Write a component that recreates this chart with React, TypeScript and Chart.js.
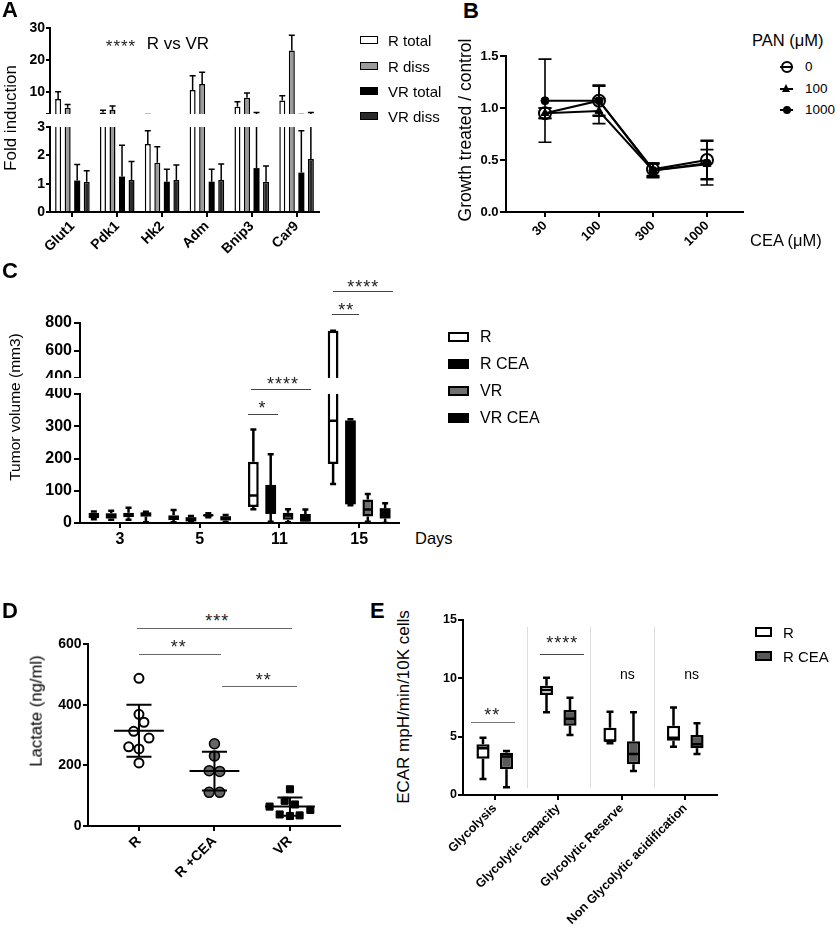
import React, { useEffect, useRef } from 'react';
import { Chart, registerables } from 'chart.js';

Chart.register(...registerables);

const FONT = "'Liberation Sans', Arial, Helvetica, sans-serif";
Chart.defaults.font.family = FONT;
Chart.defaults.color = '#000';

// ===== Panel A: fold induction =====
const genes = ['Glut1', 'Pdk1', 'Hk2', 'Adm', 'Bnip3', 'Car9'];
const aSeriesNames = ['R total', 'R diss', 'VR total', 'VR diss'];
const aRTotal = [7.7, 3.5, 2.4, 10.5, 5.3, 7.2];
const aRTotalErr = [2.3, 0.7, 0.47, 4.5, 1.55, 1.5];
const aRDiss = [5.0, 4.3, 1.74, 12.4, 8.1, 22.9];
const aRDissErr = [1.0, 1.2, 0.56, 3.7, 1.5, 4.8];
const aVRTotal = [1.11, 1.25, 1.07, 1.07, 1.55, 1.39];
const aVRTotalErr = [0.57, 1.11, 0.44, 0.44, 1.95, 1.48];
const aVRDiss = [1.07, 1.13, 1.13, 1.13, 1.07, 1.87];
const aVRDissErr = [0.39, 0.65, 0.53, 0.56, 0.55, 1.63];
const aUpperTicks = [3, 10, 20, 30];
const aLowerTicks = [0, 1, 2, 3];

// ===== Panel B: growth vs CEA dose =====
const ceaDoses = ['30', '100', '300', '1000'];
const panNames = ['0', '100', '1000'];
const pan0 = [0.95, 1.07, 0.41, 0.5];
const pan0Err = [0.05, 0.15, 0.06, 0.19];
const pan100 = [0.95, 0.97, 0.4, 0.46];
const pan100Err = [0.05, 0.12, 0.06, 0.14];
const pan1000 = [1.07, 1.07, 0.4, 0.47];
const pan1000Err = [0.4, 0.14, 0.07, 0.21];
const bTicks = [0, 0.5, 1.0, 1.5];

// ===== Panel C: tumor volume (box: min, q1, median, q3, max) =====
const days = ['3', '5', '11', '15'];
const cSeriesNames = ['R', 'R CEA', 'VR', 'VR CEA'];
const cBoxR = [[12, 15, 25, 32, 36], [2, 9, 17, 24, 40], [43, 50, 85, 190, 290], [121, 183, 317, 744, 744]];
const cBoxRCEA = [[10, 14, 22, 30, 38], [2, 5, 12, 18, 22], [4, 28, 80, 118, 213], [55, 58, 190, 318, 322]];
const cBoxVR = [[10, 18, 25, 32, 47], [18, 20, 24, 27, 30], [2, 10, 23, 32, 43], [4, 20, 42, 73, 90]];
const cBoxVRCEA = [[2, 20, 27, 33, 35], [3, 8, 15, 21, 25], [0, 4, 15, 28, 42], [0, 14, 30, 46, 61]];
const cUpperTicks = [400, 600, 800];
const cLowerTicks = [0, 100, 200, 300, 400];

// ===== Panel D: lactate =====
const dGroups = ['R', 'R +CEA', 'VR'];
const dR = [487, 368, 342, 312, 290, 261, 254, 208];
const dRJitter = [0, 0, 0.066, -0.07, 0.133, -0.136, 0, 0];
const dRCEA = [271, 231, 182, 180, 111, 111];
const dRCEAJitter = [0, 0, -0.07, 0.07, -0.07, 0.07];
const dVR = [121, 83, 71, 64, 53, 38, 33, 35];
const dVRJitter = [0, -0.07, 0.066, -0.27, 0.27, -0.136, 0, 0.128];
const dMean = [314, 181, 64];
const dSD = [86, 64, 30];
const dTicks = [0, 200, 400, 600];

// ===== Panel E: ECAR (box: min, q1, median, q3, max) =====
const eCats = ['Glycolysis', 'Glycolytic capacity', 'Glycolytic Reserve', 'Non Glycolytic acidification'];
const eSeriesNames = ['R', 'R CEA'];
const eBoxR = [[1.37, 3.1, 4.0, 4.35, 4.9], [7.09, 8.57, 9.0, 9.37, 10.06], [4.43, 4.57, 4.65, 5.77, 7.14], [4.14, 4.66, 4.91, 5.94, 7.49]];
const eBoxRCEA = [[0.66, 2.2, 3.3, 3.63, 3.77], [5.14, 5.94, 6.54, 7.29, 8.34], [2.06, 2.63, 3.51, 4.6, 7.09], [3.51, 4.0, 4.34, 5.14, 6.14]];
const eTicks = [0, 5, 10, 15];

// ---------- layout helpers ----------
type Frame = { left: number; top: number; width: number; height: number; ml: number; mt: number; mr: number; mb: number };
function frame(L: number, T: number, R: number, B: number, ml: number, mt: number, mr: number, mb: number): Frame {
  return { left: L - ml, top: T - mt, width: R - L + ml + mr, height: B - T + mt + mb, ml, mt, mr, mb };
}

function baseOptions(f: Frame, scales: any) {
  return {
    responsive: false,
    maintainAspectRatio: false,
    animation: false,
    events: [],
    layout: { padding: { left: 0, top: f.mt, right: f.mr, bottom: 0 } },
    plugins: { legend: { display: false }, tooltip: { enabled: false }, title: { display: false } },
    scales,
  };
}

function tickGrid(len: number) {
  return { display: true, drawOnChartArea: false, drawTicks: true, tickLength: len, color: '#000', lineWidth: 2, offset: false };
}
const axisBorder = { display: true, color: '#000', width: 2 };

function yAxis(o: { min: number; max: number; ticks: number[]; width: number; size: number; tickLen: number; pad: number; fmt?: (v: number) => string }) {
  return {
    type: 'linear',
    position: 'left',
    min: o.min,
    max: o.max,
    bounds: 'data',
    afterBuildTicks: (s: any) => {
      s.ticks = o.ticks.map((v) => ({ value: v }));
    },
    afterFit: (s: any) => {
      s.width = o.width;
      s.paddingTop = 0;
      s.paddingBottom = 0;
    },
    ticks: {
      color: '#000',
      font: { family: FONT, size: o.size, weight: 'bold' },
      padding: o.pad,
      autoSkip: false,
      callback: o.fmt ? (v: number) => o.fmt!(v) : (v: number) => String(v),
    },
    grid: tickGrid(o.tickLen),
    border: axisBorder,
  };
}

function xCategory(o: { height: number; size: number; rotate: boolean; pad: number }) {
  return {
    type: 'category',
    offset: true,
    afterFit: (s: any) => {
      s.height = o.height;
      s.paddingLeft = 0;
      s.paddingRight = 0;
    },
    ticks: {
      color: '#000',
      font: { family: FONT, size: o.size, weight: 'bold' },
      padding: o.pad,
      autoSkip: false,
      minRotation: o.rotate ? 45 : 0,
      maxRotation: o.rotate ? 45 : 0,
    },
    grid: tickGrid(5),
    border: axisBorder,
  };
}

function xIndexLinear(o: { min: number; max: number; labels: string[]; height: number; size: number; pad: number }) {
  return {
    type: 'linear',
    min: o.min,
    max: o.max,
    bounds: 'data',
    afterBuildTicks: (s: any) => {
      s.ticks = o.labels.map((_, i) => ({ value: i }));
    },
    afterFit: (s: any) => {
      s.height = o.height;
      s.paddingLeft = 0;
      s.paddingRight = 0;
    },
    ticks: {
      color: '#000',
      font: { family: FONT, size: o.size, weight: 'bold' },
      padding: o.pad,
      autoSkip: false,
      minRotation: 45,
      maxRotation: 45,
      callback: (v: number) => o.labels[Math.round(v)] ?? '',
    },
    grid: tickGrid(5),
    border: axisBorder,
  };
}

function clipTo(ctx: CanvasRenderingContext2D, a: any) {
  ctx.beginPath();
  ctx.rect(a.left, a.top, a.right - a.left, a.bottom - a.top);
  ctx.clip();
}

// ---------- plugins ----------
function errorBarsPlugin(errs: number[][], both: boolean, cap: number, lw: number) {
  return {
    id: 'errorBars',
    afterDatasetsDraw(chart: any) {
      const { ctx, chartArea } = chart;
      const ys = chart.scales.y;
      ctx.save();
      clipTo(ctx, chartArea);
      ctx.strokeStyle = '#000';
      ctx.lineWidth = lw;
      chart.data.datasets.forEach((ds: any, i: number) => {
        const meta = chart.getDatasetMeta(i);
        meta.data.forEach((el: any, j: number) => {
          const raw = ds.data[j];
          const v = typeof raw === 'number' ? raw : raw.y;
          const e = errs[i][j];
          const yt = ys.getPixelForValue(v + e);
          const yb = ys.getPixelForValue(both ? v - e : v);
          ctx.beginPath();
          ctx.moveTo(el.x, yb);
          ctx.lineTo(el.x, yt);
          ctx.moveTo(el.x - cap, yt);
          ctx.lineTo(el.x + cap, yt);
          if (both) {
            ctx.moveTo(el.x - cap, yb);
            ctx.lineTo(el.x + cap, yb);
          }
          ctx.stroke();
        });
      });
      ctx.restore();
    },
  };
}

function boxWhiskerPlugin(stats: number[][][], cap: number, lw: number) {
  return {
    id: 'boxWhisker',
    afterDatasetsDraw(chart: any) {
      const { ctx, chartArea } = chart;
      const ys = chart.scales.y;
      const p = (v: number) => ys.getPixelForValue(v);
      ctx.save();
      clipTo(ctx, chartArea);
      ctx.strokeStyle = '#000';
      ctx.lineWidth = lw;
      stats.forEach((series, i) => {
        const meta = chart.getDatasetMeta(i);
        series.forEach((s, j) => {
          const el: any = meta.data[j];
          if (!el) return;
          const [mn, q1, md, q3, mx] = s;
          const x = el.x;
          const hw = el.width / 2;
          ctx.beginPath();
          ctx.moveTo(x, p(q3));
          ctx.lineTo(x, p(mx));
          ctx.moveTo(x - cap, p(mx));
          ctx.lineTo(x + cap, p(mx));
          ctx.moveTo(x, p(q1));
          ctx.lineTo(x, p(mn));
          ctx.moveTo(x - cap, p(mn));
          ctx.lineTo(x + cap, p(mn));
          ctx.moveTo(x - hw + 1, p(md));
          ctx.lineTo(x + hw - 1, p(md));
          ctx.stroke();
        });
      });
      ctx.restore();
    },
  };
}

function meanSdPlugin(means: number[], sds: number[], half: number, capHalf: number, lw: number) {
  return {
    id: 'meanSd',
    afterDatasetsDraw(chart: any) {
      const { ctx } = chart;
      const xs = chart.scales.x;
      const ys = chart.scales.y;
      ctx.save();
      ctx.strokeStyle = '#000';
      ctx.lineWidth = lw;
      means.forEach((m, i) => {
        const cx = xs.getPixelForValue(i);
        const ym = ys.getPixelForValue(m);
        const yt = ys.getPixelForValue(m + sds[i]);
        const yb = ys.getPixelForValue(m - sds[i]);
        ctx.beginPath();
        ctx.moveTo(xs.getPixelForValue(i - half), ym);
        ctx.lineTo(xs.getPixelForValue(i + half), ym);
        ctx.moveTo(cx, yt);
        ctx.lineTo(cx, yb);
        ctx.moveTo(xs.getPixelForValue(i - capHalf), yt);
        ctx.lineTo(xs.getPixelForValue(i + capHalf), yt);
        ctx.moveTo(xs.getPixelForValue(i - capHalf), yb);
        ctx.lineTo(xs.getPixelForValue(i + capHalf), yb);
        ctx.stroke();
      });
      ctx.restore();
    },
  };
}

function separatorPlugin(yFrom: number, yTo: number) {
  return {
    id: 'separators',
    beforeDatasetsDraw(chart: any) {
      const { ctx } = chart;
      const xs = chart.scales.x;
      const ys = chart.scales.y;
      const n = chart.data.labels.length;
      ctx.save();
      ctx.strokeStyle = '#dcdcdc';
      ctx.lineWidth = 1;
      for (let i = 0; i < n - 1; i++) {
        const x = Math.round((xs.getPixelForValue(i) + xs.getPixelForValue(i + 1)) / 2) + 0.5;
        ctx.beginPath();
        ctx.moveTo(x, ys.getPixelForValue(yFrom));
        ctx.lineTo(x, ys.getPixelForValue(yTo));
        ctx.stroke();
      }
      ctx.restore();
    },
  };
}

// ---------- frames ----------
const fA1 = frame(50, 28, 319, 114, 50, 10, 4, 0);
const fA2 = frame(50, 127, 319, 212, 50, 8, 4, 45);
const fB = frame(506, 56, 743, 212, 40, 10, 8, 40);
const fC1 = frame(80, 323, 399, 378, 80, 8, 6, 0);
const fC2 = frame(80, 394, 399, 523, 80, 6, 6, 28);
const fD = frame(88, 644, 340, 826, 50, 10, 10, 60);
const fE = frame(463, 620, 717, 795, 40, 10, 10, 140);

// ---------- configs ----------
const aColors = ['#ffffff', '#9a9a9a', '#000000', '#2a2a2a'];
function configA(f: Frame, upper: boolean) {
  const series = [aRTotal, aRDiss, aVRTotal, aVRDiss];
  return {
    type: 'bar',
    data: {
      labels: genes,
      datasets: series.map((d, i) => ({
        label: aSeriesNames[i],
        data: d,
        backgroundColor: aColors[i],
        borderColor: '#000',
        borderWidth: aColors[i] === '#000000' ? 0 : 1.5,
        borderSkipped: 'start',
        clip: 0,
        categoryPercentage: 0.85,
        barPercentage: 0.63,
      })),
    },
    options: baseOptions(f, {
      x: upper ? { type: 'category', display: false, offset: true } : xCategory({ height: f.mb, size: 14, rotate: true, pad: 1 }),
      y: yAxis({
        min: upper ? 3 : 0,
        max: upper ? 30 : 3,
        ticks: upper ? aUpperTicks : aLowerTicks,
        width: f.ml,
        size: 14,
        tickLen: 4,
        pad: 1,
        fmt: upper ? (v) => (v === 3 ? '' : String(v)) : undefined,
      }),
    }),
    plugins: [errorBarsPlugin([aRTotalErr, aRDissErr, aVRTotalErr, aVRDissErr], false, 3, 1.5)],
  };
}

function configB(f: Frame) {
  const series = [pan0, pan100, pan1000];
  const styles = [
    { pointStyle: 'circle', pointRadius: 6, pointBorderWidth: 2, pointBackgroundColor: 'rgba(255,255,255,0)' },
    { pointStyle: 'triangle', pointRadius: 4.5, pointBorderWidth: 1, pointBackgroundColor: '#000' },
    { pointStyle: 'circle', pointRadius: 4, pointBorderWidth: 1, pointBackgroundColor: '#000' },
  ];
  return {
    type: 'line',
    data: {
      datasets: series.map((d, i) => ({
        label: panNames[i],
        data: d.map((y, k) => ({ x: k, y })),
        borderColor: '#000',
        borderWidth: 2,
        pointBorderColor: '#000',
        tension: 0,
        fill: false,
        ...styles[i],
      })),
    },
    options: baseOptions(f, {
      x: xIndexLinear({ min: -0.722, max: 3.667, labels: ceaDoses, height: f.mb, size: 13, pad: 1 }),
      y: yAxis({ min: 0, max: 1.5, ticks: bTicks, width: f.ml, size: 13, tickLen: 6, pad: 1.5, fmt: (v) => v.toFixed(1) }),
    }),
    plugins: [errorBarsPlugin([pan0Err, pan100Err, pan1000Err], true, 6.5, 1.6)],
  };
}

const cColors = ['#ffffff', '#000000', '#707070', '#000000'];
function configC(f: Frame, upper: boolean) {
  const boxes = [cBoxR, cBoxRCEA, cBoxVR, cBoxVRCEA];
  return {
    type: 'bar',
    data: {
      labels: days,
      datasets: boxes.map((b, i) => ({
        label: cSeriesNames[i],
        data: b.map((s) => [s[1], s[3]]),
        backgroundColor: cColors[i],
        borderColor: '#000',
        borderWidth: cColors[i] === '#000000' ? 0 : 2.5,
        borderSkipped: false,
        clip: 0,
        categoryPercentage: 0.87,
        barPercentage: 0.62,
      })),
    },
    options: baseOptions(f, {
      x: upper ? { type: 'category', display: false, offset: true } : xCategory({ height: f.mb, size: 16, rotate: false, pad: 2 }),
      y: yAxis({
        min: upper ? 400 : 0,
        max: upper ? 800 : 400,
        ticks: upper ? cUpperTicks : cLowerTicks,
        width: f.ml,
        size: 16,
        tickLen: 6,
        pad: 2,
      }),
    }),
    plugins: [boxWhiskerPlugin(boxes, 3, 2.5)],
  };
}

function configD(f: Frame) {
  return {
    type: 'scatter',
    data: {
      datasets: [
        {
          label: dGroups[0],
          data: dR.map((y, i) => ({ x: 0 + dRJitter[i], y })),
          pointStyle: 'circle',
          pointRadius: 4.5,
          pointBorderWidth: 2,
          pointBackgroundColor: '#fff',
          pointBorderColor: '#000',
        },
        {
          label: dGroups[1],
          data: dRCEA.map((y, i) => ({ x: 1 + dRCEAJitter[i], y })),
          pointStyle: 'circle',
          pointRadius: 5,
          pointBorderWidth: 1.5,
          pointBackgroundColor: '#666',
          pointBorderColor: '#000',
        },
        {
          label: dGroups[2],
          data: dVR.map((y, i) => ({ x: 2 + dVRJitter[i], y })),
          pointStyle: 'rect',
          pointRadius: 5,
          pointBorderWidth: 1,
          pointBackgroundColor: '#000',
          pointBorderColor: '#000',
        },
      ],
    },
    options: baseOptions(f, {
      x: xIndexLinear({ min: -0.675, max: 2.663, labels: dGroups, height: f.mb, size: 14, pad: 2 }),
      y: yAxis({ min: 0, max: 600, ticks: dTicks, width: f.ml, size: 14, tickLen: 5, pad: 1.5 }),
    }),
    plugins: [meanSdPlugin(dMean, dSD, 0.33, 0.166, 2)],
  };
}

const eColors = ['#ffffff', '#595959'];
function configE(f: Frame) {
  const boxes = [eBoxR, eBoxRCEA];
  return {
    type: 'bar',
    data: {
      labels: eCats,
      datasets: boxes.map((b, i) => ({
        label: eSeriesNames[i],
        data: b.map((s) => [s[1], s[3]]),
        backgroundColor: eColors[i],
        borderColor: '#000',
        borderWidth: 2.5,
        borderSkipped: false,
        clip: 0,
        categoryPercentage: 0.74,
        barPercentage: 0.56,
      })),
    },
    options: baseOptions(f, {
      x: xCategory({ height: f.mb, size: 12.5, rotate: true, pad: 1 }),
      y: yAxis({ min: 0, max: 15, ticks: eTicks, width: f.ml, size: 12.5, tickLen: 5, pad: 1 }),
    }),
    plugins: [separatorPlugin(14.4, 0.6), boxWhiskerPlugin(boxes, 3.5, 2.5)],
  };
}

// ---------- components ----------
function ChartCanvas({ f, build }: { f: Frame; build: () => any }) {
  const ref = useRef<HTMLCanvasElement>(null);
  useEffect(() => {
    const chart = new Chart(ref.current as HTMLCanvasElement, build());
    return () => chart.destroy();
  }, []);
  return (
    <canvas
      ref={ref}
      width={f.width}
      height={f.height}
      style={{ position: 'absolute', left: f.left, top: f.top, width: f.width, height: f.height }}
    />
  );
}

function Txt({ x, y, size, bold, align, children }: any) {
  const tx = align === 'center' ? '-50%' : align === 'right' ? '-100%' : '0';
  return (
    <div
      style={{
        position: 'absolute',
        left: x,
        top: y,
        transform: `translate(${tx}, -50%)`,
        fontFamily: FONT,
        fontSize: size,
        fontWeight: bold ? 'bold' : 'normal',
        lineHeight: 1,
        whiteSpace: 'nowrap',
        color: '#000',
      }}
    >
      {children}
    </div>
  );
}

function VTxt({ x, y, size, children }: any) {
  return (
    <div
      style={{
        position: 'absolute',
        left: x,
        top: y,
        transform: 'translate(-50%, -50%) rotate(-90deg)',
        fontFamily: FONT,
        fontSize: size,
        lineHeight: 1,
        whiteSpace: 'nowrap',
        color: '#000',
      }}
    >
      {children}
    </div>
  );
}

function Stars({ x, y, n, size = 18 }: any) {
  return (
    <div
      style={{
        position: 'absolute',
        left: x,
        top: y,
        transform: 'translate(-50%, -27%)',
        fontFamily: FONT,
        fontSize: size,
        lineHeight: 1,
        letterSpacing: 1,
        paddingLeft: 1,
        whiteSpace: 'nowrap',
        color: '#222',
      }}
    >
      {'*'.repeat(n)}
    </div>
  );
}

function HLine({ x1, x2, y, color = '#444' }: any) {
  return <div style={{ position: 'absolute', left: x1, top: y - 0.5, width: x2 - x1, height: 1, background: color }} />;
}

function Swatch({ x, y, w, h, fill, bw }: any) {
  return (
    <div
      style={{
        position: 'absolute',
        left: x,
        top: y - h / 2,
        width: w,
        height: h,
        boxSizing: 'border-box',
        background: fill,
        border: `${bw}px solid #000`,
      }}
    />
  );
}

function LegendLine({ x, y, kind }: any) {
  const marker =
    kind === 'open' ? (
      <div style={{ position: 'absolute', left: 6.5 - 6, top: -6, width: 12, height: 12, boxSizing: 'border-box', borderRadius: '50%', border: '2px solid #000' }} />
    ) : kind === 'tri' ? (
      <div style={{ position: 'absolute', left: 6.5 - 4.5, top: -5, width: 0, height: 0, borderLeft: '4.5px solid transparent', borderRight: '4.5px solid transparent', borderBottom: '8px solid #000' }} />
    ) : (
      <div style={{ position: 'absolute', left: 6.5 - 4, top: -4, width: 8, height: 8, borderRadius: '50%', background: '#000' }} />
    );
  return (
    <div style={{ position: 'absolute', left: x, top: y, width: 13, height: 0 }}>
      <div style={{ position: 'absolute', left: 0, top: -1, width: 13, height: 2, background: '#000' }} />
      {marker}
    </div>
  );
}

export default function App() {
  const aLegendRows = [40, 65.5, 90.5, 115.5];
  const bLegendRows = [66.7, 89, 110];
  const bKinds = ['open', 'tri', 'dot'];
  const cLegendRows = [336.7, 364, 391, 418.3];
  const eLegendRows = [631.7, 656];
  return (
    <div style={{ position: 'absolute', left: 0, top: 0, width: 835, height: 935, background: '#fff', overflow: 'hidden' }}>
      <ChartCanvas f={fA1} build={() => configA(fA1, true)} />
      <ChartCanvas f={fA2} build={() => configA(fA2, false)} />
      <ChartCanvas f={fB} build={() => configB(fB)} />
      <ChartCanvas f={fC1} build={() => configC(fC1, true)} />
      <ChartCanvas f={fC2} build={() => configC(fC2, false)} />
      <ChartCanvas f={fD} build={() => configD(fD)} />
      <ChartCanvas f={fE} build={() => configE(fE)} />

      {/* panel letters */}
      <Txt x={2} y={10} size={22} bold>A</Txt>
      <Txt x={463} y={11} size={22} bold>B</Txt>
      <Txt x={2} y={271} size={22} bold>C</Txt>
      <Txt x={2} y={611} size={22} bold>D</Txt>
      <Txt x={370} y={611} size={22} bold>E</Txt>

      {/* axis titles */}
      <VTxt x={9.5} y={117.5} size={17}>Fold induction</VTxt>
      <VTxt x={466} y={130} size={17.5}>Growth treated / control</VTxt>
      <VTxt x={15} y={406.7} size={15.5}>Tumor volume (mm3)</VTxt>
      <VTxt x={37} y={710.8} size={16.7}>Lactate (ng/ml)</VTxt>
      <VTxt x={403} y={706.7} size={17}>ECAR mpH/min/10K cells</VTxt>

      {/* Panel A annotations + legend */}
      <Stars x={120.5} y={43.3} n={4} size={17} />
      <Txt x={146.7} y={42.7} size={17}>R vs VR</Txt>
      {aSeriesNames.map((n, i) => (
        <React.Fragment key={n}>
          <Swatch x={360} y={aLegendRows[i]} w={18} h={8} fill={aColors[i]} bw={1.5} />
          <Txt x={388} y={aLegendRows[i]} size={15}>{n}</Txt>
        </React.Fragment>
      ))}

      {/* Panel B legend */}
      <Txt x={752} y={40} size={16.5}>PAN (μM)</Txt>
      {panNames.map((n, i) => (
        <React.Fragment key={n}>
          <LegendLine x={780} y={bLegendRows[i]} kind={bKinds[i]} />
          <Txt x={805} y={bLegendRows[i]} size={13.5}>{n}</Txt>
        </React.Fragment>
      ))}
      <Txt x={750} y={240} size={16.5}>CEA (μM)</Txt>

      {/* Panel C annotations + legend */}
      <HLine x1={248.3} x2={278.3} y={414} />
      <Stars x={262} y={404.3} n={1} />
      <HLine x1={250.7} x2={310.7} y={389.3} />
      <Stars x={282.5} y={380} n={4} />
      <HLine x1={331.7} x2={359.3} y={314} />
      <Stars x={345.7} y={305.7} n={2} />
      <HLine x1={333.3} x2={392.7} y={291.7} />
      <Stars x={362.7} y={283.3} n={4} />
      {cSeriesNames.map((n, i) => (
        <React.Fragment key={n}>
          <Swatch x={448} y={cLegendRows[i]} w={21} h={10} fill={cColors[i]} bw={2.5} />
          <Txt x={480} y={cLegendRows[i]} size={16}>{n}</Txt>
        </React.Fragment>
      ))}
      <Txt x={415} y={538} size={16.5}>Days</Txt>

      {/* Panel D annotations */}
      <HLine x1={137.3} x2={292.3} y={628.3} color="#666" />
      <Stars x={216.7} y={617} n={3} />
      <HLine x1={139} x2={221} y={654} color="#666" />
      <Stars x={178.3} y={643.3} n={2} />
      <HLine x1={221.7} x2={297.3} y={686.7} color="#666" />
      <Stars x={263.3} y={676} n={2} />

      {/* Panel E annotations + legend */}
      <HLine x1={470.7} x2={515} y={722.7} color="#777" />
      <Stars x={491.7} y={711} n={2} />
      <HLine x1={540} x2={584} y={654} color="#444" />
      <Stars x={561.7} y={639} n={4} />
      <Txt x={627.3} y={674.3} size={14} align="center">ns</Txt>
      <Txt x={691.7} y={674.3} size={14} align="center">ns</Txt>
      {eSeriesNames.map((n, i) => (
        <React.Fragment key={n}>
          <Swatch x={755} y={eLegendRows[i]} w={17} h={10} fill={eColors[i]} bw={2.5} />
          <Txt x={783} y={eLegendRows[i]} size={15}>{n}</Txt>
        </React.Fragment>
      ))}
    </div>
  );
}
